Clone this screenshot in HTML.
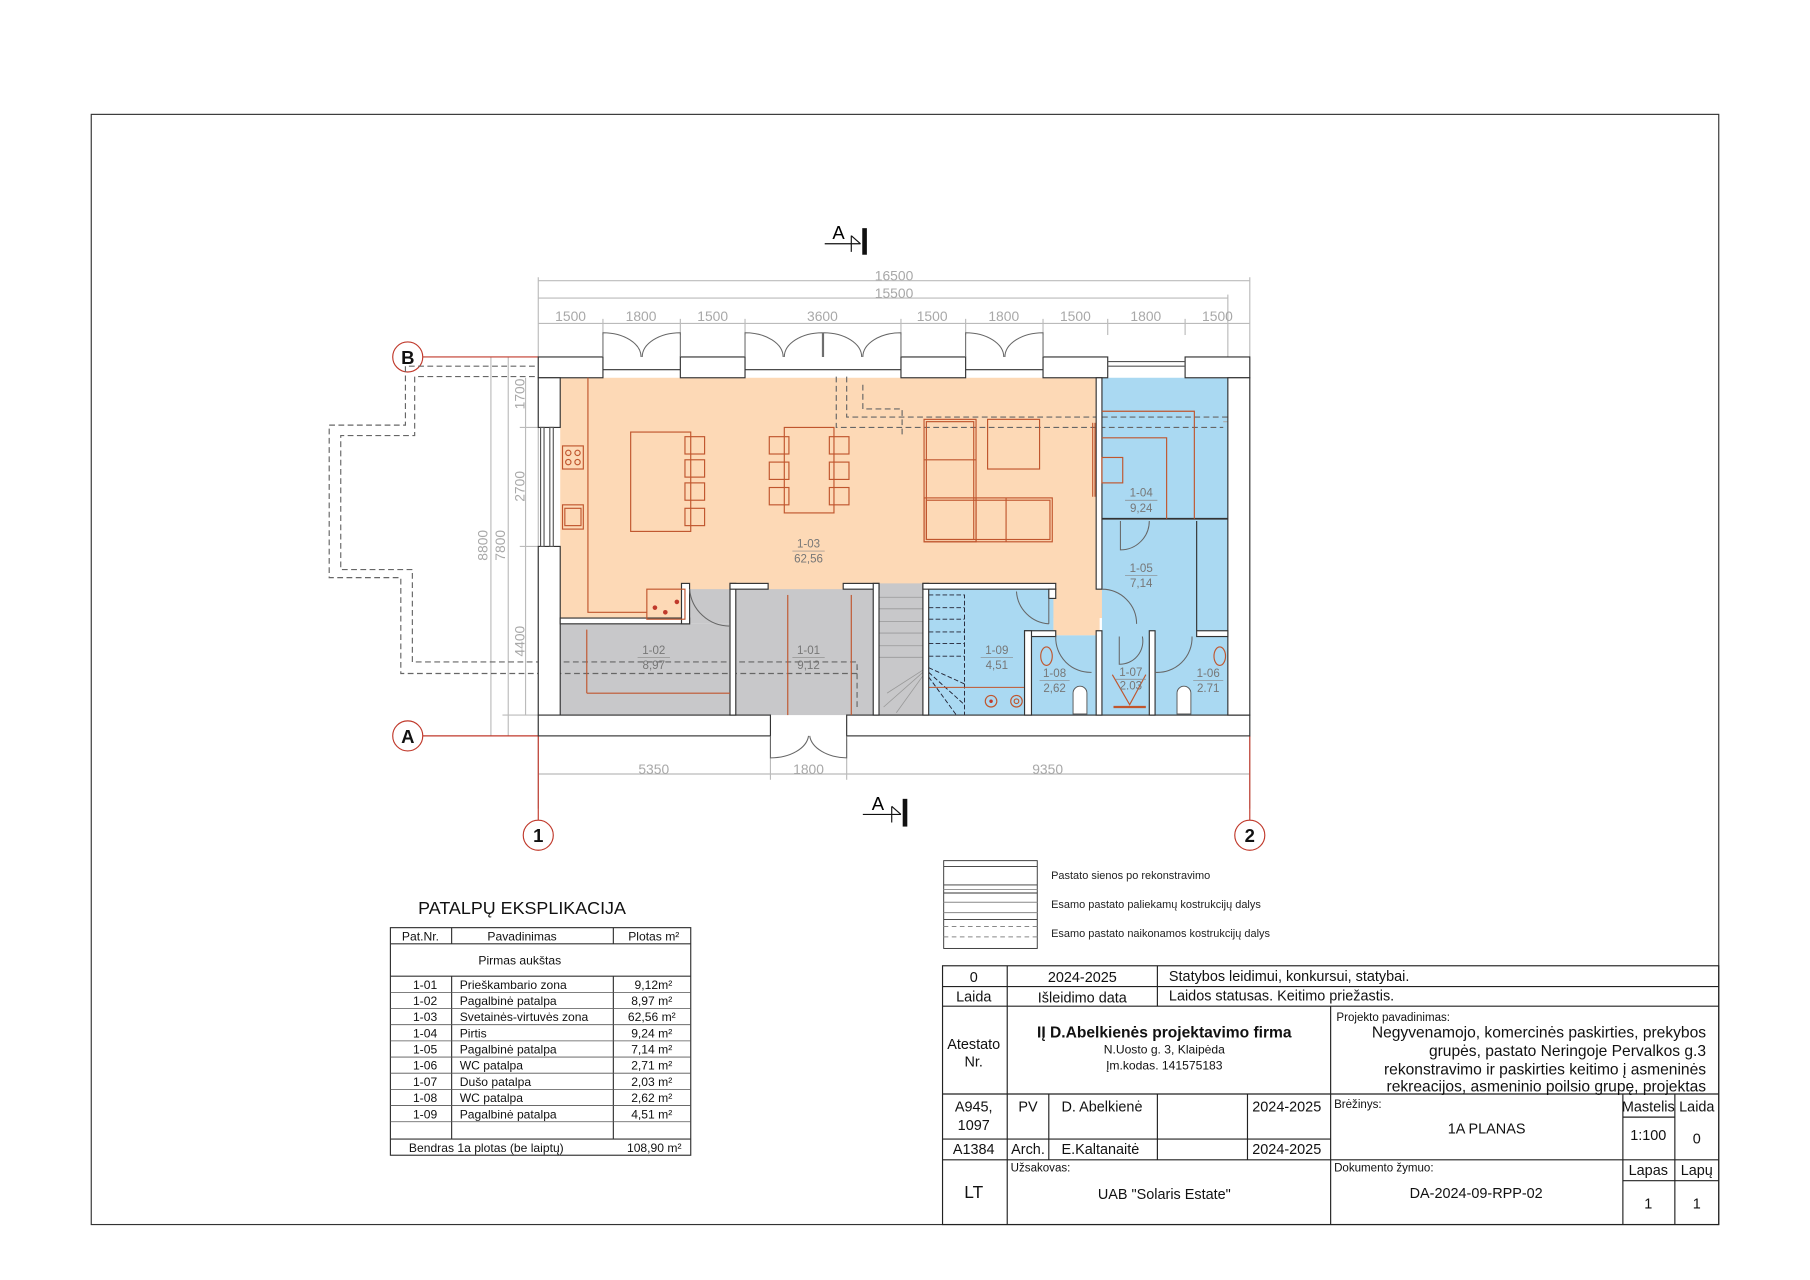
<!DOCTYPE html>
<html><head><meta charset="utf-8"><style>
html,body{margin:0;padding:0;background:#fff}
svg{display:block}
text{font-family:"Liberation Sans",sans-serif}
.dim{fill:#a8a8a8;font-size:12px;text-anchor:middle}
.rl{fill:#777;font-size:10px;text-anchor:middle}
.w{fill:#fff;stroke:#333;stroke-width:1}
.r{fill:none;stroke:#c0562e;stroke-width:1}
.d{fill:none;stroke:#666;stroke-width:1;stroke-dasharray:5,3}
.g{stroke:#bbb;stroke-width:1;fill:none}
.tb{font-size:12.5px;fill:#111}
.tc{font-size:10.5px;fill:#111;font-family:"Liberation Sans Narrow","Liberation Sans",sans-serif}
.sm{font-size:9.5px;fill:#222}
</style></head><body>
<svg width="1810" height="1280" viewBox="0 0 1567 1108" preserveAspectRatio="none" xmlns="http://www.w3.org/2000/svg">
<rect x="79" y="99" width="1409" height="961" fill="none" stroke="#333" stroke-width="1"/>

<g class="g">
<line x1="466" y1="243" x2="1082" y2="243"/>
<line x1="466" y1="258" x2="1063" y2="258"/>
<line x1="466" y1="280" x2="1082" y2="280"/>
<line x1="466" y1="240" x2="466" y2="700"/>
<line x1="1082" y1="240" x2="1082" y2="700"/>
<line x1="1063" y1="255" x2="1063" y2="309"/>
<line x1="522" y1="276" x2="522" y2="290"/><line x1="589" y1="276" x2="589" y2="290"/>
<line x1="645" y1="276" x2="645" y2="290"/><line x1="780" y1="276" x2="780" y2="290"/>
<line x1="836" y1="276" x2="836" y2="290"/><line x1="903" y1="276" x2="903" y2="290"/>
<line x1="959" y1="276" x2="959" y2="290"/><line x1="1026" y1="276" x2="1026" y2="290"/>
<line x1="466" y1="670" x2="1082" y2="670"/>
<line x1="667" y1="640" x2="667" y2="675"/><line x1="733" y1="640" x2="733" y2="675"/>
<line x1="425" y1="309" x2="425" y2="637"/>
<line x1="440" y1="309" x2="440" y2="637"/>
<line x1="455" y1="327" x2="455" y2="619"/>
<line x1="450" y1="370" x2="466" y2="370"/><line x1="450" y1="473" x2="466" y2="473"/>
<line x1="435" y1="619" x2="466" y2="619"/>
</g>
<text class="dim" x="774" y="243">16500</text>
<text class="dim" x="774" y="258">15500</text>
<text class="dim" x="494" y="278">1500</text><text class="dim" x="555" y="278">1800</text>
<text class="dim" x="617" y="278">1500</text><text class="dim" x="712" y="278">3600</text>
<text class="dim" x="807" y="278">1500</text><text class="dim" x="869" y="278">1800</text>
<text class="dim" x="931" y="278">1500</text><text class="dim" x="992" y="278">1800</text>
<text class="dim" x="1054" y="278">1500</text>
<text class="dim" x="566" y="670">5350</text><text class="dim" x="700" y="670">1800</text><text class="dim" x="907" y="670">9350</text>
<text class="dim" transform="translate(454,341) rotate(-90)">1700</text>
<text class="dim" transform="translate(454,421) rotate(-90)">2700</text>
<text class="dim" transform="translate(454,555) rotate(-90)">4400</text>
<text class="dim" transform="translate(422,472) rotate(-90)">8800</text>
<text class="dim" transform="translate(437,472) rotate(-90)">7800</text>

<g stroke="#c0392b" fill="#fff" stroke-width="1">
<line x1="366" y1="309" x2="466" y2="309"/><line x1="366" y1="637" x2="466" y2="637"/>
<line x1="466" y1="637" x2="466" y2="710"/><line x1="1082" y1="637" x2="1082" y2="710"/>
<circle cx="353" cy="309" r="13"/><circle cx="353" cy="637" r="13"/>
<circle cx="466" cy="723" r="13"/><circle cx="1082" cy="723" r="13"/>
</g>
<g font-weight="bold" font-size="16" text-anchor="middle" fill="#111">
<text x="353" y="315">B</text><text x="353" y="643">A</text>
<text x="466" y="729">1</text><text x="1082" y="729">2</text>
</g>

<g stroke="#111" fill="none">
<line x1="714" y1="211" x2="745" y2="211"/><path d="M737 204 L745 211 M737 204 L737 218"/>
<rect x="747" y="198" width="3" height="22" fill="#111"/>
<line x1="747" y1="705" x2="780" y2="705"/><path d="M772 698 L780 705 M772 698 L772 712"/>
<rect x="782" y="692" width="3" height="23" fill="#111"/>
</g>
<text x="726" y="207" font-size="16" text-anchor="middle">A</text>
<text x="760" y="701" font-size="16" text-anchor="middle">A</text>

<rect x="485" y="327" width="470" height="208" fill="#fdd9b6"/>
<rect x="485" y="530" width="105" height="5" fill="#fdd9b6"/>
<rect x="912" y="505" width="40" height="45" fill="#fdd9b6"/>
<rect x="954" y="327" width="109" height="292" fill="#aad9f2"/>
<rect x="804" y="510" width="108" height="109" fill="#aad9f2"/>
<rect x="893" y="550" width="170" height="69" fill="#aad9f2"/>
<rect x="485" y="540" width="147" height="79" fill="#c8c8ca"/>
<rect x="637" y="510" width="119" height="109" fill="#c8c8ca"/>
<rect x="761" y="505" width="38" height="114" fill="#c8c8ca"/>
<rect x="597" y="510" width="35" height="30" fill="#c8c8ca"/>

<g stroke="#999" stroke-width="0.7">
<line x1="761" y1="517" x2="799" y2="517"/><line x1="761" y1="527" x2="799" y2="527"/>
<line x1="761" y1="538" x2="799" y2="538"/><line x1="761" y1="548" x2="799" y2="548"/>
<line x1="761" y1="559" x2="799" y2="559"/><line x1="761" y1="569" x2="799" y2="569"/>
<line x1="799" y1="580" x2="768" y2="600"/><line x1="799" y1="582" x2="765" y2="612"/><line x1="799" y1="585" x2="776" y2="617"/>
</g>
<g stroke="#223" stroke-dasharray="4,2" fill="none" stroke-width="0.8">
<path d="M804 515 H835 V619"/><path d="M804 526 H835 M804 536 H835 M804 547 H835 M804 557 H835 M804 568 H835"/>
<path d="M804 578 L835 592 M804 582 L835 610 M804 586 L828 619"/>
</g>
<line x1="804" y1="595" x2="893" y2="595" stroke="#c0562e" stroke-width="0.8"/>
<circle cx="858" cy="607" r="5" class="r"/><circle cx="858" cy="607" r="1.5" fill="#c0392b"/>
<circle cx="880" cy="607" r="5" stroke="#c0562e" fill="none"/><circle cx="880" cy="607" r="2" stroke="#c0562e" fill="none"/>

<polyline class="d" points="463,317 351,317 351,368 285,368 285,500 347,500 347,583 742,583 742,578"/>
<polyline class="d" points="463,326 359,326 359,377 295,377 295,493 357,493 357,573 742,573 742,615"/>
<polyline class="d" points="724,326 724,370 1059,370"/>
<polyline class="d" points="733,326 733,361 1067,361"/>
<polyline class="d" points="747,333 747,354 781,354 781,376"/>
<polyline points="1059,365 1073,365 1073,625 740,625" fill="none" stroke="#aaa"/>

<rect class="w" x="466" y="309" width="56" height="18"/>
<rect class="w" x="589" y="309" width="56" height="18"/>
<rect class="w" x="780" y="309" width="56" height="18"/>
<rect class="w" x="903" y="309" width="56" height="18"/>
<rect class="w" x="1026" y="309" width="56" height="18"/>
<line x1="522" y1="320" x2="589" y2="320" stroke="#333"/><line x1="645" y1="320" x2="780" y2="320" stroke="#333"/>
<line x1="836" y1="320" x2="903" y2="320" stroke="#333"/>
<line x1="959" y1="313" x2="1026" y2="313" stroke="#555"/><line x1="959" y1="317" x2="1026" y2="317" stroke="#555"/>
<rect class="w" x="466" y="327" width="19" height="43"/>
<rect class="w" x="466" y="473" width="19" height="146"/>
<rect x="468" y="370" width="3" height="103" fill="#fff" stroke="#555"/><rect x="476" y="370" width="3" height="103" fill="#fff" stroke="#555"/>
<rect class="w" x="466" y="619" width="201" height="18"/>
<rect class="w" x="733" y="619" width="349" height="18"/>
<rect class="w" x="1063" y="327" width="19" height="292"/>
<rect class="w" x="485" y="535" width="112" height="5"/>
<rect class="w" x="590" y="505" width="7" height="35"/>
<rect class="w" x="632" y="505" width="5" height="114"/>
<rect class="w" x="632" y="505" width="33" height="5"/>
<rect class="w" x="730" y="505" width="31" height="5"/>
<rect class="w" x="756" y="505" width="5" height="114"/>
<rect class="w" x="799" y="505" width="5" height="114"/>
<rect class="w" x="799" y="505" width="115" height="5"/>
<rect class="w" x="908" y="510" width="6" height="8"/>
<rect class="w" x="887" y="546" width="27" height="5"/>
<rect class="w" x="887" y="546" width="6" height="73"/>
<rect class="w" x="949" y="327" width="5" height="183"/>
<rect class="w" x="949" y="546" width="5" height="73"/>
<rect class="w" x="995" y="546" width="5" height="73"/>
<rect class="w" x="1036" y="546" width="27" height="5"/>
<line x1="954" y1="449" x2="1063" y2="449" stroke="#333" stroke-width="1.5"/>
<line x1="1036" y1="451" x2="1036" y2="546" stroke="#333"/>

<g fill="none" stroke="#666" stroke-width="0.9">
<path d="M522 309 V288 A33 21 0 0 1 555 309 M589 309 V288 A33 21 0 0 0 556 309"/>
<path d="M645 309 V288 A33 21 0 0 1 678 309 M712 309 V288 A33 21 0 0 0 679 309"/>
<path d="M713 309 V288 A33 21 0 0 1 746 309 M780 309 V288 A33 21 0 0 0 747 309"/>
<path d="M836 309 V288 A33 21 0 0 1 869 309 M903 309 V288 A33 21 0 0 0 870 309"/>
<path d="M667 637 V656 A33 21 0 0 0 700 637 M733 637 V656 A33 21 0 0 1 701 637"/>
<path d="M597 510 A35 35 0 0 0 632 542"/>
<path d="M908 518 V540 M908 540 A30 30 0 0 1 880 512"/>
<path d="M954 510 A30 30 0 0 1 984 540"/>
<path d="M970 451 V476 A25 25 0 0 0 995 451"/>
<path d="M914 551 A30 30 0 0 0 945 582"/>
<path d="M969 551 V575 A20 20 0 0 0 989 551"/>
<path d="M1000 582 A30 30 0 0 0 1032 551"/>
</g>

<g class="r">
<polyline points="509,327 509,530 560,530"/>
<rect x="546" y="374" width="52" height="86"/>
<rect x="593" y="378" width="17" height="15"/><rect x="593" y="398" width="17" height="15"/>
<rect x="593" y="418" width="17" height="15"/><rect x="593" y="440" width="17" height="15"/>
<rect x="679" y="370" width="43" height="74"/>
<rect x="666" y="378" width="17" height="15"/><rect x="666" y="400" width="17" height="15"/><rect x="666" y="422" width="17" height="15"/>
<rect x="718" y="378" width="17" height="15"/><rect x="718" y="400" width="17" height="15"/><rect x="718" y="422" width="17" height="15"/>
<rect x="487" y="386" width="18" height="20"/>
<circle cx="492" cy="392" r="2.3"/><circle cx="500" cy="392" r="2.3"/><circle cx="492" cy="400" r="2.3"/><circle cx="500" cy="400" r="2.3"/>
<rect x="487" y="437" width="18" height="21"/><rect x="489" y="440" width="14" height="15"/>
<rect x="560" y="510" width="33" height="26"/>
<rect x="800" y="363" width="45" height="106"/><rect x="802" y="365" width="41" height="102"/>
<rect x="800" y="431" width="111" height="38"/><rect x="802" y="433" width="107" height="34"/>
<line x1="845" y1="431" x2="845" y2="469"/><line x1="871" y1="431" x2="871" y2="469"/>
<line x1="800" y1="398" x2="845" y2="398"/>
<rect x="855" y="363" width="45" height="43"/>
<line x1="946" y1="366" x2="946" y2="430"/><line x1="948" y1="366" x2="948" y2="430"/>
<polyline points="954,356 1034,356 1034,449"/>
<polyline points="954,379 1010,379 1010,449"/>
<rect x="954" y="396" width="18" height="22"/>
<ellipse cx="906" cy="568" rx="5" ry="8"/><ellipse cx="1056" cy="568" rx="5" ry="8"/>
<line x1="964" y1="612" x2="992" y2="612" stroke-width="2"/>
<path d="M963 584 L978 610 L992 584"/>
</g>
<g fill="#c0392b"><circle cx="576" cy="530" r="2"/><circle cx="586" cy="521" r="2"/><circle cx="567" cy="526" r="2"/></g>
<g fill="#fff" stroke="#555" stroke-width="0.8">
<path d="M929 618 V600 A6 6 0 0 1 941 600 V618 Z"/><path d="M1019 618 V600 A6 6 0 0 1 1031 600 V618 Z"/>
</g>
<g stroke="#c0562e"><line x1="508" y1="545" x2="508" y2="600"/><line x1="508" y1="600" x2="632" y2="600"/>
<line x1="682" y1="515" x2="682" y2="619"/><line x1="737" y1="515" x2="737" y2="619"/></g>

<g class="rl">
<text x="700" y="474">1-03</text><text x="700" y="487">62,56</text>
<text x="566" y="566">1-02</text><text x="566" y="579">8,97</text>
<text x="700" y="566">1-01</text><text x="700" y="579">9,12</text>
<text x="863" y="566">1-09</text><text x="863" y="579">4,51</text>
<text x="988" y="430">1-04</text><text x="988" y="443">9,24</text>
<text x="988" y="495">1-05</text><text x="988" y="508">7,14</text>
<text x="913" y="586">1-08</text><text x="913" y="599">2,62</text>
<text x="979" y="585">1-07</text><text x="979" y="597">2.03</text>
<text x="1046" y="586">1-06</text><text x="1046" y="599">2.71</text>
</g>
<g stroke="#888" stroke-width="0.6">
<line x1="686" y1="477" x2="714" y2="477"/><line x1="552" y1="569" x2="580" y2="569"/>
<line x1="686" y1="569" x2="714" y2="569"/><line x1="849" y1="569" x2="877" y2="569"/>
<line x1="974" y1="433" x2="1002" y2="433"/><line x1="974" y1="498" x2="1002" y2="498"/>
<line x1="900" y1="589" x2="926" y2="589"/><line x1="966" y1="588" x2="992" y2="588"/><line x1="1033" y1="589" x2="1059" y2="589"/>
</g>

<g fill="none" stroke="#333" stroke-width="0.8">
<rect x="817" y="745" width="81" height="76"/>
<line x1="817" y1="750" x2="898" y2="750"/><line x1="817" y1="766" x2="898" y2="766"/>
<line x1="817" y1="770" x2="898" y2="770" stroke="#888"/><line x1="817" y1="773" x2="898" y2="773"/>
<line x1="817" y1="781" x2="898" y2="781" stroke="#888"/><line x1="817" y1="790" x2="898" y2="790" stroke="#888"/>
<line x1="817" y1="796" x2="898" y2="796"/>
<line x1="817" y1="802" x2="898" y2="802" stroke="#888" stroke-dasharray="4,3"/>
<line x1="817" y1="811" x2="898" y2="811" stroke="#888" stroke-dasharray="4,3"/>
</g>
<g class="sm" font-size="10.5"><text x="910" y="761">Pastato sienos po rekonstravimo</text>
<text x="910" y="786">Esamo pastato paliekamų kostrukcijų dalys</text>
<text x="910" y="811">Esamo pastato naikonamos kostrukcijų dalys</text></g>

<text x="362" y="791" font-size="15.5" fill="#111">PATALPŲ EKSPLIKACIJA</text>
<g fill="none" stroke="#333" stroke-width="1">
<rect x="338" y="803" width="260" height="197"/>
<line x1="338" y1="817" x2="598" y2="817"/><line x1="338" y1="845" x2="598" y2="845"/>
<line x1="338" y1="986" x2="598" y2="986"/>
<line x1="391" y1="803" x2="391" y2="817"/><line x1="531" y1="803" x2="531" y2="817"/>
<line x1="391" y1="845" x2="391" y2="986"/><line x1="531" y1="845" x2="531" y2="986"/>
</g>
<g stroke="#555" stroke-width="0.7">
<line x1="338" y1="859" x2="598" y2="859"/><line x1="338" y1="873" x2="598" y2="873"/>
<line x1="338" y1="887" x2="598" y2="887"/><line x1="338" y1="901" x2="598" y2="901"/>
<line x1="338" y1="915" x2="598" y2="915"/><line x1="338" y1="929" x2="598" y2="929"/>
<line x1="338" y1="943" x2="598" y2="943"/><line x1="338" y1="957" x2="598" y2="957"/>
<line x1="338" y1="971" x2="598" y2="971"/>
</g>
<g class="tc">
<text x="364" y="814" text-anchor="middle">Pat.Nr.</text><text x="452" y="814" text-anchor="middle">Pavadinimas</text><text x="566" y="814" text-anchor="middle">Plotas m²</text>
<text x="450" y="835" text-anchor="middle">Pirmas aukštas</text>
<text x="368" y="856" text-anchor="middle">1-01</text><text x="398" y="856">Prieškambario zona</text><text x="582" y="856" text-anchor="end">9,12m²</text>
<text x="368" y="870" text-anchor="middle">1-02</text><text x="398" y="870">Pagalbinė patalpa</text><text x="582" y="870" text-anchor="end">8,97 m²</text>
<text x="368" y="884" text-anchor="middle">1-03</text><text x="398" y="884">Svetainės-virtuvės zona</text><text x="585" y="884" text-anchor="end">62,56 m²</text>
<text x="368" y="898" text-anchor="middle">1-04</text><text x="398" y="898">Pirtis</text><text x="582" y="898" text-anchor="end">9,24 m²</text>
<text x="368" y="912" text-anchor="middle">1-05</text><text x="398" y="912">Pagalbinė patalpa</text><text x="582" y="912" text-anchor="end">7,14 m²</text>
<text x="368" y="926" text-anchor="middle">1-06</text><text x="398" y="926">WC patalpa</text><text x="582" y="926" text-anchor="end">2,71 m²</text>
<text x="368" y="940" text-anchor="middle">1-07</text><text x="398" y="940">Dušo patalpa</text><text x="582" y="940" text-anchor="end">2,03 m²</text>
<text x="368" y="954" text-anchor="middle">1-08</text><text x="398" y="954">WC patalpa</text><text x="582" y="954" text-anchor="end">2,62 m²</text>
<text x="368" y="968" text-anchor="middle">1-09</text><text x="398" y="968">Pagalbinė patalpa</text><text x="582" y="968" text-anchor="end">4,51 m²</text>
<text x="354" y="997">Bendras  1a plotas (be laiptų)</text><text x="590" y="997" text-anchor="end">108,90 m²</text>
</g>

<g fill="none" stroke="#222" stroke-width="1">
<rect x="816" y="836" width="672" height="224"/>
<line x1="816" y1="854" x2="1488" y2="854"/><line x1="816" y1="871" x2="1488" y2="871"/>
<line x1="816" y1="947" x2="1488" y2="947"/><line x1="816" y1="1004" x2="1488" y2="1004"/>
<line x1="816" y1="986" x2="1152" y2="986"/>
<line x1="872" y1="836" x2="872" y2="1060"/>
<line x1="1002" y1="836" x2="1002" y2="871"/>
<line x1="1152" y1="871" x2="1152" y2="1060"/>
<line x1="908" y1="947" x2="908" y2="1004"/><line x1="1002" y1="947" x2="1002" y2="1004"/><line x1="1080" y1="947" x2="1080" y2="1004"/>
<line x1="1405" y1="947" x2="1405" y2="1060"/><line x1="1450" y1="947" x2="1450" y2="1060"/>
<line x1="1405" y1="967" x2="1450" y2="967"/><line x1="1405" y1="1022" x2="1488" y2="1022"/>
</g>
<g class="tb">
<text x="843" y="850" text-anchor="middle">0</text><text x="937" y="850" text-anchor="middle">2024-2025</text>
<text x="1012" y="849">Statybos leidimui, konkursui, statybai.</text>
<text x="843" y="867" text-anchor="middle">Laida</text><text x="937" y="868" text-anchor="middle">Išleidimo data</text>
<text x="1012" y="866">Laidos statusas. Keitimo priežastis.</text>
<text x="843" y="908" text-anchor="middle">Atestato</text><text x="843" y="923" text-anchor="middle">Nr.</text>
<text x="1008" y="898" text-anchor="middle" font-weight="bold" font-size="13.5">IĮ D.Abelkienės projektavimo firma</text>
<text x="1008" y="912" text-anchor="middle" font-size="10.5">N.Uosto g. 3, Klaipėda</text>
<text x="1008" y="926" text-anchor="middle" font-size="10.5">Įm.kodas. 141575183</text>
<text x="1157" y="884" font-size="10">Projekto pavadinimas:</text>
<g text-anchor="end" font-size="13.5"><text x="1477" y="898">Negyvenamojo, komercinės paskirties, prekybos</text>
<text x="1477" y="914">grupės, pastato Neringoje Pervalkos g.3</text>
<text x="1477" y="930">rekonstravimo ir paskirties keitimo į asmeninės</text>
<text x="1477" y="945">rekreacijos, asmeninio poilsio grupę, projektas</text></g>
<text x="843" y="962" text-anchor="middle">A945,</text><text x="843" y="978" text-anchor="middle">1097</text>
<text x="890" y="962" text-anchor="middle">PV</text><text x="919" y="962">D. Abelkienė</text>
<text x="1114" y="962" text-anchor="middle">2024-2025</text>
<text x="843" y="999" text-anchor="middle">A1384</text><text x="890" y="999" text-anchor="middle">Arch.</text>
<text x="919" y="999">E.Kaltanaitė</text><text x="1114" y="999" text-anchor="middle">2024-2025</text>
<text x="1155" y="959" font-size="10">Brėžinys:</text>
<text x="1287" y="981" text-anchor="middle">1A PLANAS</text>
<text x="1427" y="962" text-anchor="middle">Mastelis</text><text x="1469" y="962" text-anchor="middle">Laida</text>
<text x="1427" y="987" text-anchor="middle">1:100</text><text x="1469" y="990" text-anchor="middle">0</text>
<text x="875" y="1014" font-size="10">Užsakovas:</text>
<text x="843" y="1037" text-anchor="middle" font-size="15">LT</text>
<text x="1008" y="1038" text-anchor="middle">UAB "Solaris Estate"</text>
<text x="1155" y="1014" font-size="10">Dokumento žymuo:</text>
<text x="1278" y="1037" text-anchor="middle">DA-2024-09-RPP-02</text>
<text x="1427" y="1017" text-anchor="middle">Lapas</text><text x="1469" y="1017" text-anchor="middle">Lapų</text>
<text x="1427" y="1046" text-anchor="middle">1</text><text x="1469" y="1046" text-anchor="middle">1</text>
</g>
</svg>
</body></html>
